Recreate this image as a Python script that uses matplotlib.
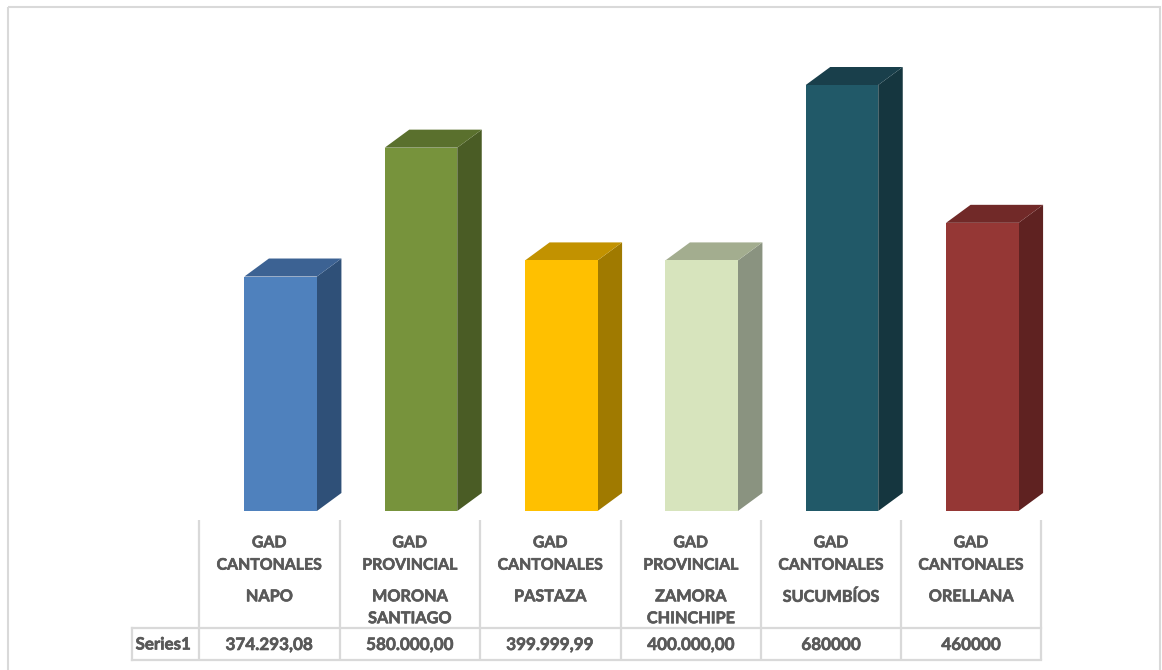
import matplotlib
matplotlib.use("Agg")
import matplotlib.pyplot as plt
import matplotlib.patheffects as pe
from matplotlib.patches import Rectangle

W, H = 1162, 670

groups = ["GAD\nCANTONALES", "GAD\nPROVINCIAL", "GAD\nCANTONALES",
          "GAD\nPROVINCIAL", "GAD\nCANTONALES", "GAD\nCANTONALES"]
places = ["NAPO", "MORONA\nSANTIAGO", "PASTAZA", "ZAMORA\nCHINCHIPE", "SUCUMBÍOS", "ORELLANA"]
values = [374293.08, 580000.00, 399999.99, 400000.00, 680000, 460000]
value_labels = ["374.293,08", "580.000,00", "399.999,99", "400.000,00", "680000", "460000"]
series_name = "Series1"

front_colors = ["#4f81bd", "#77933c", "#ffc000", "#d7e4bd", "#215968", "#953735"]
top_colors = ["#3c6293", "#5a702d", "#c29200", "#a3ad8f", "#193f4b", "#712928"]
side_colors = ["#2f5078", "#4a5c25", "#a07a00", "#8a9380", "#15363f", "#5f2221"]

plt.rcParams["font.family"] = ["Lato", "DejaVu Sans"]
fig = plt.figure(figsize=(W / 100, H / 100), dpi=100, facecolor="white")

# Full-figure overlay in pixel coordinates for frame and table furniture
bg = fig.add_axes([0, 0, 1, 1])
bg.set_xlim(0, W)
bg.set_ylim(H, 0)
bg.axis("off")

bg.add_patch(Rectangle((8, 6.5), 1152, 700, fill=False, ec="#d9d9d9", lw=1.5, clip_on=True))

col_edges = [199, 339.5, 480, 620.5, 761, 901, 1041]
LINE = "#d9d9d9"
table_top, row_mid, table_bot = 520, 628, 659.5
series_left = 131.5
for x in col_edges:
    bg.plot([x, x], [table_top, table_bot], color=LINE, lw=1.6, solid_capstyle="butt")
bg.plot([series_left, col_edges[-1]], [row_mid, row_mid], color=LINE, lw=1.6)
bg.plot([series_left, col_edges[-1]], [table_bot, table_bot], color=LINE, lw=1.6)
bg.plot([series_left, series_left], [row_mid, table_bot], color=LINE, lw=1.6)

# Bars in data coordinates; the front faces sit left of the 3D depth, offset from the cells
left_px, right_px = col_edges[0] + 11.5, col_edges[-1] + 11.5
base_px, top_px = 511, 20
PX_PER_UNIT = (511 - 85) / 680000
ax = fig.add_axes([left_px / W, 1 - base_px / H, (right_px - left_px) / W, (base_px - top_px) / H])
ax.patch.set_alpha(0)
ax.set_xlim(-0.5, 5.5)
ax.set_ylim(0, (base_px - top_px) / PX_PER_UNIT)
ax.axis("off")

BAR_W = 72.5 / ((right_px - left_px) / 6)
DX = 24.5 / ((right_px - left_px) / 6)
DY = 18 / PX_PER_UNIT

for i, v in enumerate(values):
    l, r = i - BAR_W / 2, i + BAR_W / 2
    ax.fill([r, r + DX, r + DX, r], [0, DY, v + DY, v], color=side_colors[i], lw=0, clip_on=False)
    ax.fill([l, l + DX, r + DX, r], [v, v + DY, v + DY, v], color=top_colors[i], lw=0, clip_on=False)
ax.bar(range(len(values)), values, width=BAR_W, color=front_colors, linewidth=0)

# Table text
TXT = "#595959"
heavy = [pe.withStroke(linewidth=0.45, foreground=TXT)]
kw = dict(ha="center", color=TXT, fontweight="bold", path_effects=heavy)
for i in range(6):
    cx = (col_edges[i] + col_edges[i + 1]) / 2
    bg.text(cx, 536.3, groups[i], va="top", fontsize=11.4, linespacing=1.76, **kw)
    bg.text(cx, 590.3, places[i], va="top", fontsize=11.7, linespacing=1.72, **kw)
    bg.text(cx, 645, value_labels[i], va="center", fontsize=12.3, **kw)
bg.text(163, 644.5, series_name, va="center", fontsize=12.2, **kw)

fig.savefig("out.png", dpi=100, facecolor="white")
